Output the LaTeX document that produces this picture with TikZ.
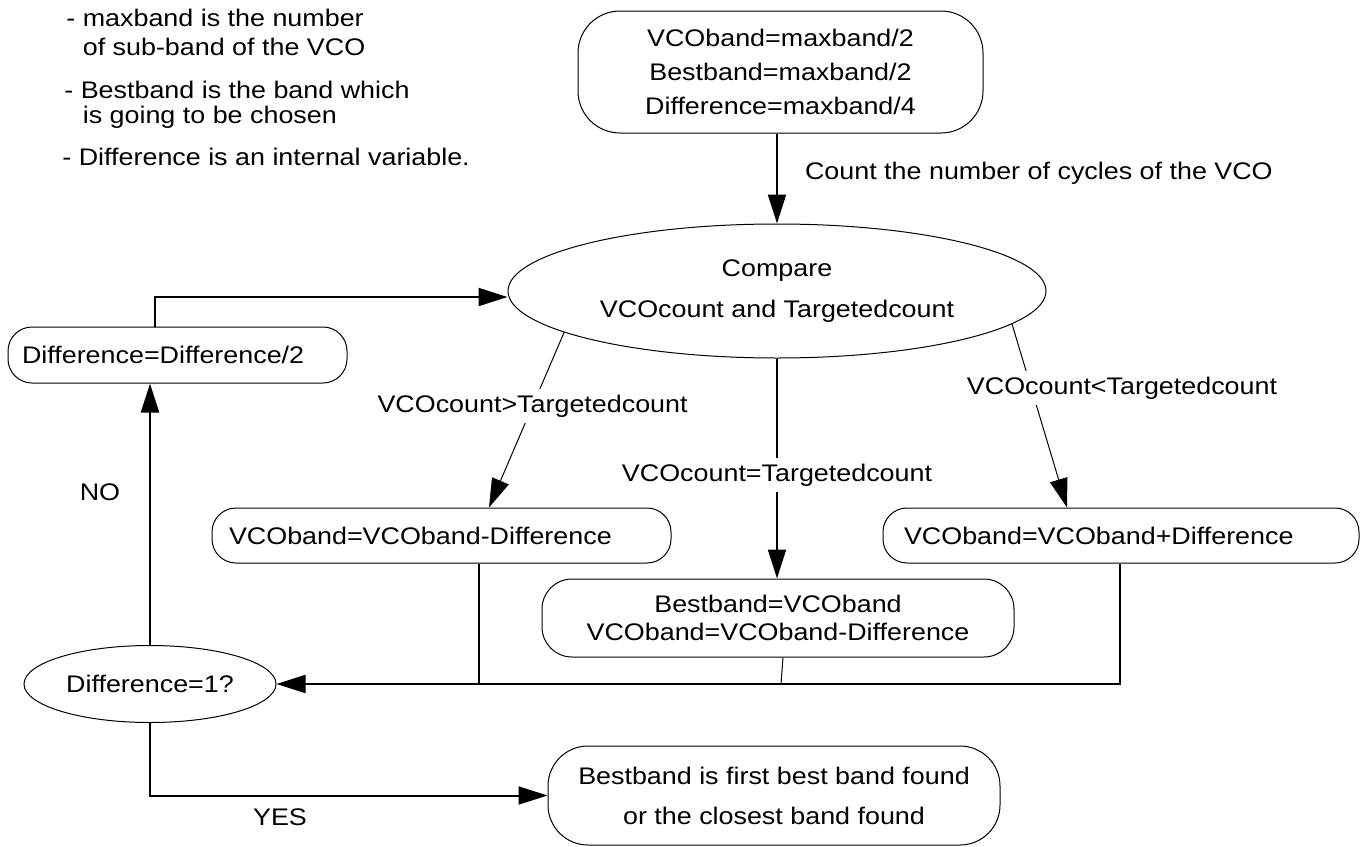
\documentclass[tikz,border=0pt]{standalone}
\usepackage{fontspec}
\setmainfont{Liberation Sans}[FakeStretch=1.12]
\usetikzlibrary{arrows.meta,shapes.geometric}

\begin{document}
\begin{tikzpicture}[x=0.5pt,y=-0.5pt,font=\fontsize{12}{14}\selectfont,
  rbox/.style={draw,line width=0.5pt,rounded corners=12pt,inner sep=0pt,minimum height=27.5pt},
  oval/.style={draw,ellipse,line width=0.5pt,inner sep=0pt},
  flow/.style={line width=1pt,-{Triangle[length=14.5pt,width=9pt]}},
  fine/.style={line width=0.5pt,-{Triangle[length=14.5pt,width=9pt]}},
  lbl/.style={fill=white,inner sep=3pt}]
  \useasboundingbox (0,0) rectangle (1365,846);
  % notes
  \node[anchor=west,align=left,inner sep=0pt] (maxnote) at (66,32.5) {- maxband is the number\\[0.5pt]\phantom{- }of sub-band of the VCO};
  \node[anchor=west,align=left,inner sep=0pt] (bestnote) at (64,104.5) {- Bestband is the band which\\[-1.5pt]\phantom{- }\hspace{1pt}is going to be chosen};
  \node[anchor=west,inner sep=0pt] (diffnote) at (62,157) {- Difference is an internal variable.};
  % boxes
  \node[rbox,minimum width=202.5pt,minimum height=61pt,rounded corners=21pt,align=center] (init) at (780.5,72) {VCOband=maxband/2\\[3pt]Bestband=maxband/2\\[3pt]Difference=maxband/4};
  \node[oval,minimum width=269pt,minimum height=67pt,align=center] (cmp) at (777,291) {Compare\\[6.5pt]VCOcount and Targetedcount};
  \node[rbox,text width=155.5pt,inner xsep=7pt,minimum height=28pt,align=left] (half) at (177.5,355) {Difference=Difference/2};
  \node[rbox,text width=212.5pt,inner xsep=8.5pt,align=left] (lowbox) at (441.5,535.5) {VCOband=VCOband-Difference};
  \node[rbox,text width=217pt,inner xsep=10.5pt,align=left] (highbox) at (1121,535.5) {VCOband=VCOband+Difference};
  \node[rbox,minimum width=236pt,minimum height=39pt,rounded corners=15pt,align=center] (hitbox) at (778,618) {Bestband=VCOband\\VCOband=VCOband-Difference};
  \node[oval,minimum width=126pt,minimum height=38.5pt] (last) at (150,684) {Difference=1?};
  \node[rbox,minimum width=226pt,minimum height=49.5pt,rounded corners=20pt,align=center] (done) at (774,795.5) {Bestband is first best band found\\[6pt]or the closest band found};
  % connectors
  \draw[flow] (cmp.north |- init.south) -- (cmp.north);
  \node[anchor=west] (cnt) at (798,173) {Count the number of cycles of the VCO};
  \draw[flow] ([xshift=-11.25pt]half.north) |- ([yshift=-3pt]cmp.west);
  \draw[flow] (last.north) -- (last.north |- half.south);
  \node (no) at (100,492) {NO};
  \draw[fine] (cmp.191) -- node[lbl,pos=0.42] (gt) {VCOcount>Targetedcount} ([xshift=23.75pt]lowbox.north);
  \draw[flow] (cmp.south) -- node[lbl,pos=0.53] (eq) {VCOcount=Targetedcount} (cmp.south |- hitbox.north);
  \draw[fine] (cmp.-8) -- ([xshift=-27pt]highbox.north);
  \node[lbl] (lt) at (1122,388) {VCOcount<Targetedcount};
  \draw[flow] ([xshift=-0.5pt]highbox.south) |- (last.east);
  \draw[line width=1pt] ([xshift=18.75pt]lowbox.south) -- ([xshift=18.75pt]lowbox.south |- last.east);
  \draw[line width=0.5pt] ([xshift=2.5pt]hitbox.south) -- ([xshift=1.5pt]hitbox.south |- last.east);
  \draw[flow] (last.south) |- (done.west);
  \node (yes) at (280,817) {YES};
\end{tikzpicture}
\end{document}
